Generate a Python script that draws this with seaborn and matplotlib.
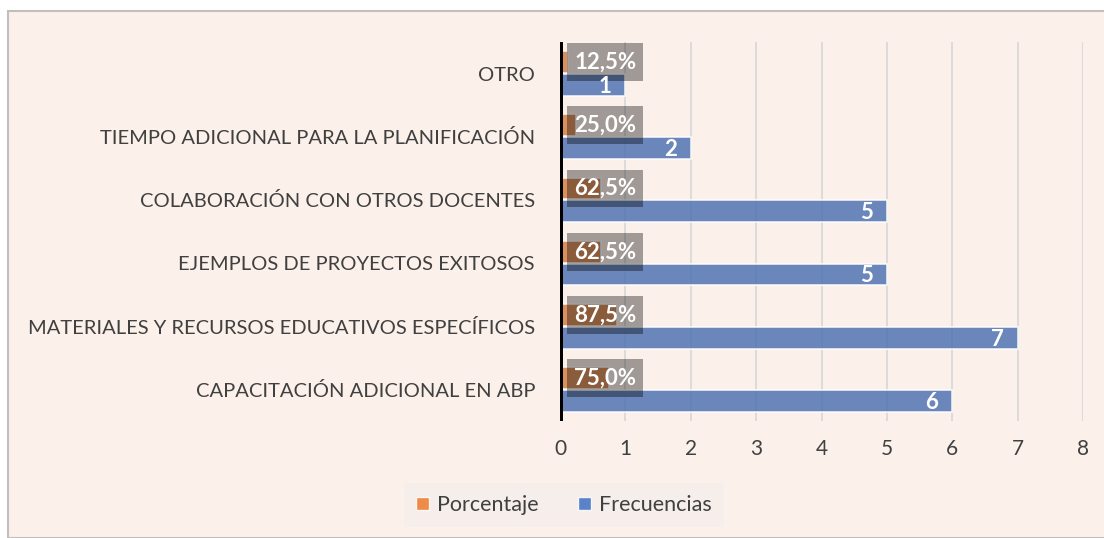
import matplotlib
matplotlib.use("Agg")
import matplotlib.pyplot as plt
import seaborn as sns
import pandas as pd
from matplotlib.patches import Rectangle, Patch

categorias = [
    "OTRO",
    "TIEMPO ADICIONAL PARA LA PLANIFICACIÓN",
    "COLABORACIÓN CON OTROS DOCENTES",
    "EJEMPLOS DE PROYECTOS EXITOSOS",
    "MATERIALES Y RECURSOS EDUCATIVOS ESPECÍFICOS",
    "CAPACITACIÓN ADICIONAL EN ABP",
]
porcentaje = [0.125, 0.25, 0.625, 0.625, 0.875, 0.75]
frecuencias = [1, 2, 5, 5, 7, 6]
etiquetas_pct = ["12,5%", "25,0%", "62,5%", "62,5%", "87,5%", "75,0%"]
series = ["Porcentaje", "Frecuencias"]
colores = ["#ED7D31", "#4472C4"]
xticks = [0, 1, 2, 3, 4, 5, 6, 7, 8]

df = pd.DataFrame({
    "categoria": categorias * 2,
    "serie": [series[0]] * len(categorias) + [series[1]] * len(categorias),
    "valor": porcentaje + frecuencias,
})

sns.set_theme(style="white")
plt.rcParams["font.family"] = ["Lato", "DejaVu Sans"]

BG = "#FBF0EA"
TXT = "#404040"

fig = plt.figure(figsize=(11.04, 5.38), dpi=100)
fig.patch.set_facecolor("white")
fig.add_artist(Rectangle((8 / 1104, 0), 1.0, 1 - 11 / 538, transform=fig.transFigure,
                         facecolor=BG, edgecolor="#BFBFBF", linewidth=1.5, zorder=-10))

ax = fig.add_axes([560 / 1104, 1 - 421 / 538, (1083 - 560) / 1104, (421 - 42) / 538])
ax.set_facecolor("none")

sns.barplot(data=df, y="categoria", x="valor", hue="serie", hue_order=series,
            order=categorias, palette=colores, orient="h", width=0.72, gap=0.04,
            edgecolor="white", linewidth=1.2, alpha=0.87, legend=False, ax=ax, zorder=3)

ax.set_xlim(0, 8)
ax.set_ylim(len(categorias) - 0.5, -0.5)
ax.set_xticks(xticks)
ax.set_xticklabels([str(t) for t in xticks])
ax.xaxis.grid(True, color="#D9D9D9", linewidth=1.3, zorder=0)
ax.set_axisbelow(True)
for s in ax.spines.values():
    s.set_visible(False)
ax.axvline(0, color="black", linewidth=3.6, zorder=6)
ax.set_xlabel("")
ax.set_ylabel("")
ax.tick_params(axis="y", length=0, pad=18, labelsize=14.5, labelcolor=TXT)
ax.tick_params(axis="x", length=0, pad=13, labelsize=15, labelcolor=TXT)

off = 0.18
for i, (p, f, lab) in enumerate(zip(porcentaje, frecuencias, etiquetas_pct)):
    yp = i - off
    yf = i + off
    ax.add_patch(Rectangle((0.107, yp - 0.3), 1.165, 0.6, facecolor="black",
                           alpha=0.36, edgecolor="none", zorder=7))
    ax.text(0.69, yp, lab, ha="center", va="center", color="white",
            fontsize=16, fontweight="bold", zorder=8)
    ax.annotate(str(f), xy=(f, yf), xytext=(-10, -1), textcoords="offset points",
                ha="right", va="center", color="white", fontsize=16,
                fontweight="bold", zorder=8)

handles = [Patch(facecolor=c, edgecolor="white", alpha=0.87, linewidth=1.0) for c in colores]
leg = fig.legend(handles, series, loc="center", bbox_to_anchor=(564 / 1104, 1 - 505 / 538),
                 ncol=2, frameon=True, fontsize=15.5, handlelength=0.6, handleheight=0.6,
                 handletextpad=0.4, columnspacing=1.8, borderpad=0.55, fancybox=False)
leg.get_frame().set_facecolor("#F5EEEA")
leg.get_frame().set_edgecolor("none")
leg.get_frame().set_alpha(1)
for t in leg.get_texts():
    t.set_color(TXT)

fig.savefig("out.png", dpi=100, facecolor=fig.get_facecolor())
